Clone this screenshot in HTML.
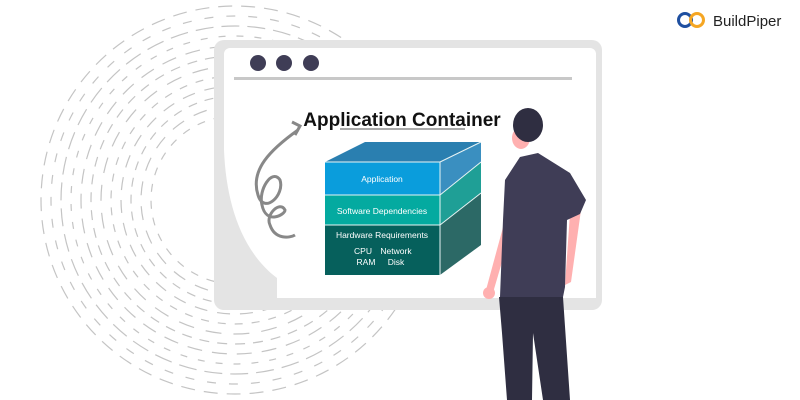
<!DOCTYPE html>
<html><head><meta charset="utf-8"><style>
html,body{margin:0;padding:0;background:#fff;width:800px;height:400px;overflow:hidden}
svg{display:block;overflow:hidden}
</style></head><body>
<svg width="800" height="400" viewBox="0 0 800 400" xmlns="http://www.w3.org/2000/svg" style="position:absolute;left:0;top:0">
<g fill="none" stroke="#c4c4c4" stroke-width="1.2">
<circle cx="235" cy="200" r="194" stroke-dasharray="14 9"/>
<circle cx="235" cy="200" r="184" stroke-dasharray="9 13"/>
<circle cx="235" cy="200" r="174" stroke-dasharray="18 8"/>
<circle cx="235" cy="200" r="164" stroke-dasharray="7 11"/>
<circle cx="235" cy="200" r="154" stroke-dasharray="15 10"/>
<circle cx="235" cy="200" r="144" stroke-dasharray="10 8"/>
<circle cx="235" cy="200" r="134" stroke-dasharray="16 12"/>
<circle cx="235" cy="200" r="124" stroke-dasharray="8 9"/>
<circle cx="235" cy="200" r="114" stroke-dasharray="13 10"/>
<circle cx="235" cy="200" r="104" stroke-dasharray="9 8"/>
<circle cx="235" cy="200" r="94" stroke-dasharray="14 11"/>
<circle cx="235" cy="200" r="84" stroke-dasharray="8 9"/>
</g>
<rect x="214" y="40" width="388" height="270" rx="10" fill="#e4e4e4"/>
<path d="M230,48 H590 a6,6 0 0 1 6,6 V298 H277 V278 C240,250 226,200 224,150 V54 a6,6 0 0 1 6,-6Z" fill="#fff"/>
<circle cx="258" cy="63" r="8" fill="#3f3d56"/>
<circle cx="284" cy="63" r="8" fill="#3f3d56"/>
<circle cx="311" cy="63" r="8" fill="#3f3d56"/>
<rect x="234" y="77" width="338" height="3" fill="#c8c8c8"/>
<text x="402" y="126" text-anchor="middle" font-family="Liberation Sans, sans-serif" font-weight="bold" font-size="19" fill="#111">Application Container</text>
<line x1="340" y1="129" x2="465" y2="129" stroke="#555" stroke-width="1"/>
<path d="M298,130 C270,150 250,170 258,195 C264,215 285,195 280,180 C272,168 258,190 262,205 C266,225 285,215 285,210 C280,200 265,215 270,225 C275,240 290,238 295,235" fill="none" stroke="#888" stroke-width="3"/>
<path d="M292,122 L300,126 L295,135" fill="none" stroke="#888" stroke-width="3"/>
<polygon points="325,162 365,142 481,142 440,162" fill="#2a7fb0"/>
<polygon points="440,162 481,142 481,162 440,195" fill="#3a8fc0"/>
<polygon points="440,195 481,162 481,193 440,225" fill="#1f9f96"/>
<polygon points="440,225 481,193 481,245 440,275" fill="#2c6966"/>
<rect x="325" y="162" width="115" height="33" fill="#0a9ddc"/>
<rect x="325" y="195" width="115" height="30" fill="#04aaa0"/>
<rect x="325" y="225" width="115" height="50" fill="#06605c"/>
<g stroke="#e8f4f4" stroke-width="1" fill="none">
<line x1="325" y1="162" x2="440" y2="162"/><line x1="440" y1="162" x2="481" y2="142"/>
<line x1="325" y1="195" x2="440" y2="195"/><line x1="440" y1="195" x2="481" y2="162"/>
<line x1="325" y1="225" x2="440" y2="225"/><line x1="440" y1="225" x2="481" y2="193"/>
<line x1="440" y1="162" x2="440" y2="275"/>
</g>
<g font-family="Liberation Sans, sans-serif" font-size="8.5" fill="#fff" text-anchor="middle">
<text x="382" y="182">Application</text>
<text x="382" y="214">Software Dependencies</text>
<text x="382" y="238">Hardware Requirements</text>
<text x="363" y="254">CPU</text><text x="396" y="254">Network</text>
<text x="366" y="265">RAM</text><text x="396" y="265">Disk</text>
</g>
<polygon points="499,297 563,297 570,400 543,400 533,333 532,400 507,400 502,333" fill="#2f2e41"/>
<polygon points="505,220 486,290 492,296 512,228" fill="#ffb0b0"/>
<circle cx="489" cy="293" r="6" fill="#ffb0b0"/>
<polygon points="570,213 581,210 571,282 565,285" fill="#ffb0b0"/>
<ellipse cx="521" cy="138" rx="9" ry="11" fill="#ffb0b0"/>
<ellipse cx="528" cy="125" rx="15" ry="17" fill="#2f2e41"/>
<polygon points="520,157 538,153 570,173 586,200 580,214 567,220 565,287 563,297 500,297 503,220 505,180" fill="#3f3d56"/>
<circle cx="685" cy="20" r="6.5" fill="none" stroke="#1f4fa0" stroke-width="3"/>
<circle cx="697" cy="20" r="6.5" fill="none" stroke="#f5a623" stroke-width="3"/>
<text x="713" y="26" font-family="Liberation Sans, sans-serif" font-size="15" fill="#222">BuildPiper</text>
</svg>
</body></html>
